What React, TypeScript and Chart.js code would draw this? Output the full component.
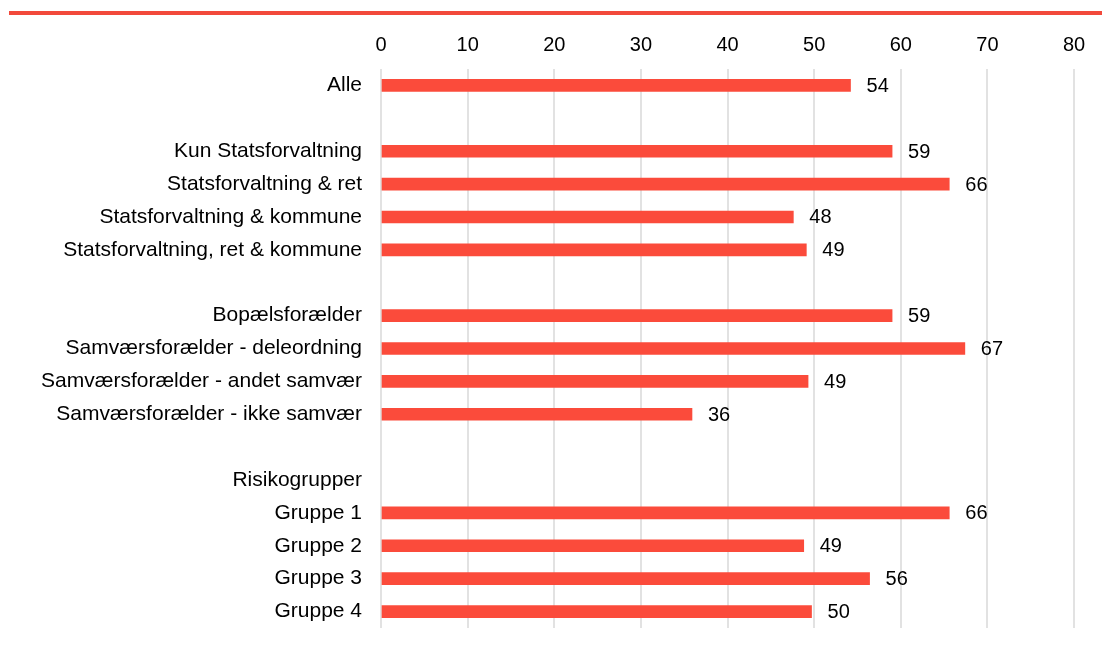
import React, { useEffect, useRef } from "react";
import { Chart, registerables } from "chart.js";

Chart.register(...registerables);

const categories = [
  "Alle",
  "",
  "Kun Statsforvaltning",
  "Statsforvaltning & ret",
  "Statsforvaltning & kommune",
  "Statsforvaltning, ret & kommune",
  " ",
  "Bopælsforælder",
  "Samværsforælder - deleordning",
  "Samværsforælder - andet samvær",
  "Samværsforælder - ikke samvær",
  "  ",
  "Risikogrupper",
  "Gruppe 1",
  "Gruppe 2",
  "Gruppe 3",
  "Gruppe 4",
];

const values: (number | null)[] = [
  54.2, null, 59.0, 65.6, 47.6, 49.1, null, 59.0, 67.4, 49.3, 35.9, null, null, 65.6, 48.8, 56.4, 49.7,
];

const valueLabels: (string | null)[] = [
  "54", null, "59", "66", "48", "49", null, "59", "67", "49", "36", null, null, "66", "49", "56", "50",
];

const xTicks = [0, 10, 20, 30, 40, 50, 60, 70, 80];

const FONT = 'Arial, "Liberation Sans", sans-serif';
const RED = "#FB4B3B";

const topLine = {
  id: "topLine",
  beforeDraw(chart: any) {
    const ctx = chart.ctx;
    ctx.save();
    ctx.fillStyle = "#F2493B";
    ctx.fillRect(9, 11, chart.width - 9, 4);
    ctx.restore();
  },
};

const valueLabelPlugin = {
  id: "valueLabels",
  afterDatasetsDraw(chart: any) {
    const ctx = chart.ctx;
    const meta = chart.getDatasetMeta(0);
    ctx.save();
    ctx.font = `20px ${FONT}`;
    ctx.fillStyle = "#000";
    ctx.textAlign = "left";
    ctx.textBaseline = "middle";
    meta.data.forEach((bar: any, i: number) => {
      const lbl = valueLabels[i];
      if (lbl == null || values[i] == null) return;
      ctx.fillText(lbl, bar.x + 16, bar.y + 1);
    });
    ctx.restore();
  },
};

export default function App() {
  const ref = useRef<HTMLCanvasElement>(null);
  useEffect(() => {
    if (!ref.current) return;
    const chart = new Chart(ref.current, {
      type: "bar",
      data: {
        labels: categories,
        datasets: [
          {
            data: values,
            backgroundColor: RED,
            barThickness: 12,
          },
        ],
      },
      options: {
        indexAxis: "y",
        animation: false,
        responsive: false,
        maintainAspectRatio: false,
        layout: { padding: { left: 0, right: 28, top: 0, bottom: 26 } },
        plugins: {
          legend: { display: false },
          tooltip: { enabled: false },
        },
        scales: {
          x: {
            position: "top",
            min: 0,
            max: 80,
            afterBuildTicks: (axis: any) => {
              axis.ticks = xTicks.map((v) => ({ value: v }));
            },
            afterFit: (axis: any) => {
              axis.height = 69;
              axis.paddingLeft = 0;
              axis.paddingRight = 0;
            },
            grid: { color: "#E2E2E2", lineWidth: 2, drawTicks: false },
            border: { display: false },
            ticks: {
              padding: 12,
              color: "#000",
              font: { family: FONT, size: 20 },
            },
          },
          y: {
            afterFit: (axis: any) => {
              axis.width = 381;
              axis.paddingTop = 0;
              axis.paddingBottom = 0;
            },
            grid: { display: false, drawTicks: false },
            border: { display: false },
            ticks: {
              padding: 19,
              color: "#000",
              autoSkip: false,
              font: { family: FONT, size: 21 },
            },
          },
        },
      },
      plugins: [topLine, valueLabelPlugin],
    });
    return () => chart.destroy();
  }, []);
  return (
    <div style={{ position: "absolute", left: 0, top: 0, width: 1102, height: 654, background: "#fff" }}>
      <canvas ref={ref} width={1102} height={654} style={{ display: "block" }} />
    </div>
  );
}
